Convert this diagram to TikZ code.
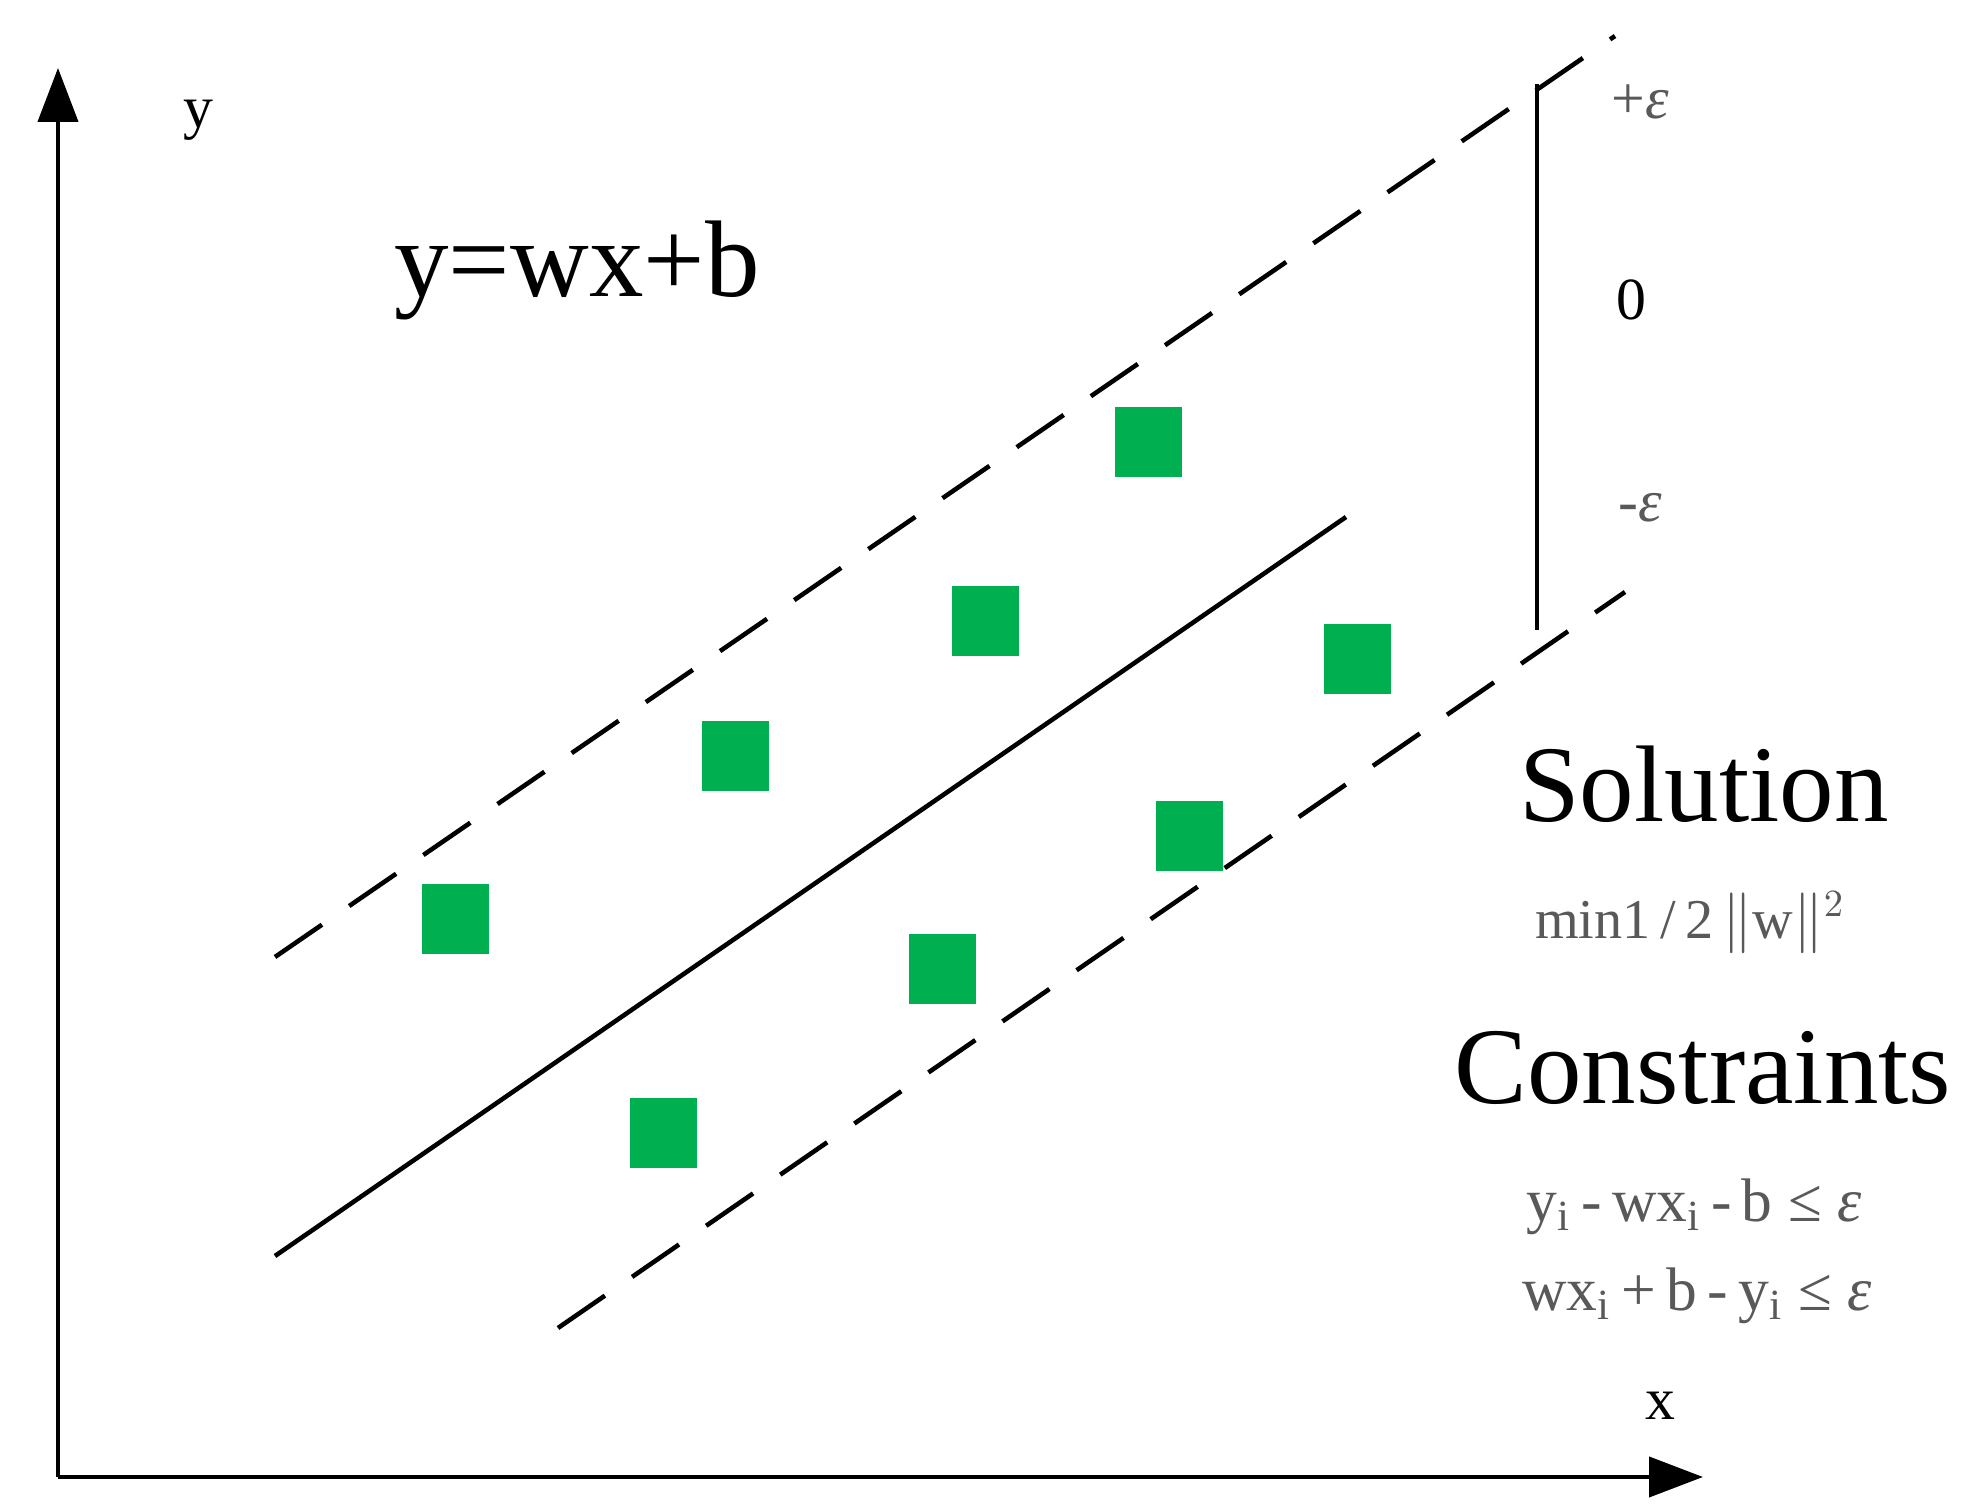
\documentclass[tikz,border=0pt]{standalone}
\usepackage{fontspec}
\setmainfont{Liberation Serif}
\usepackage{xcolor}
\usetikzlibrary{arrows.meta}
\definecolor{ptgreen}{HTML}{00B050}
\definecolor{labgray}{gray}{0.35}

\begin{document}
\begin{tikzpicture}[
  axis/.style={line width=1.2pt,-{Triangle[length=5.4mm,width=4mm]}},
  band/.style={line width=1.3pt,dash pattern=on 5.7mm off 3.3mm},
  sample/.style={fill=ptgreen,inner sep=0pt,minimum width=6.7mm,minimum height=7mm},
  bigtxt/.style={font=\fontsize{31}{36}\selectfont},
  labtxt/.style={font=\fontsize{17}{20}\selectfont},
  formtxt/.style={font=\fontsize{17.5}{20}\selectfont,text=labgray}
]
  \useasboundingbox (0,0) rectangle (19.82,15.09);

  % axes
  \coordinate (o) at (0.58,0.32);
  \coordinate (ytip) at (0.58,14.41);
  \coordinate (xtip) at (17.03,0.32);
  \draw[axis] (o) -- (ytip);
  \draw[axis] (o) -- (xtip);
  \node[labtxt] (ylab) at (1.98,13.89) {y};
  \node[labtxt] (xlab) at (16.60,1.03) {x};

  % regression line and epsilon tube
  \coordinate (up1) at (2.75,5.52);
  \coordinate (up2) at (16.15,14.73);
  \coordinate (mid1) at (2.75,2.53);
  \coordinate (mid2) at (13.46,9.92);
  \coordinate (lo1) at (5.58,1.81);
  \coordinate (lo2) at (16.25,9.17);
  \draw[band] (up1) -- (up2);
  \draw[line width=1.3pt] (mid1) -- (mid2);
  \draw[band] (lo1) -- (lo2);

  % tube width
  \coordinate (bartop) at (15.37,14.25);
  \coordinate (barbot) at (15.37,8.79);
  \draw[line width=1.3pt] (bartop) -- (barbot);
  \node[labtxt,text=labgray] (peps) at (16.40,14.07) {+\textit{ε}};
  \node[labtxt] (zero) at (16.31,12.09) {0};
  \node[labtxt,text=labgray] (meps) at (16.40,10.01) {-\textit{ε}};

  % data points
  \node[sample] (p1) at (11.48,10.67) {};
  \node[sample] (p2) at (9.85,8.88) {};
  \node[sample] (p3) at (7.35,7.53) {};
  \node[sample] (p4) at (4.55,5.90) {};
  \node[sample] (p5) at (13.57,8.50) {};
  \node[sample] (p6) at (11.89,6.73) {};
  \node[sample] (p7) at (9.42,5.40) {};
  \node[sample] (p8) at (6.63,3.76) {};

  % text
  \node[bigtxt] (model) at (5.77,12.39) {y=wx+b};
  \node[bigtxt] (sol) at (17.04,7.25) {Solution};
  \node[formtxt,font=\fontsize{16}{19}\selectfont] (obj) at (16.90,5.86) {min1\,/\,2\,$\|$w$\|^{2}$};
  \node[bigtxt] (cons) at (17.03,4.41) {Constraints};
  \node[formtxt] (c1) at (16.94,3.02) {y\textsubscript{i}\,-\,wx\textsubscript{i}\,-\,b ≤ \textit{ε}};
  \node[formtxt] (c2) at (16.97,2.13) {wx\textsubscript{i}\,+\,b\,-\,y\textsubscript{i} ≤ \textit{ε}};
\end{tikzpicture}
\end{document}
